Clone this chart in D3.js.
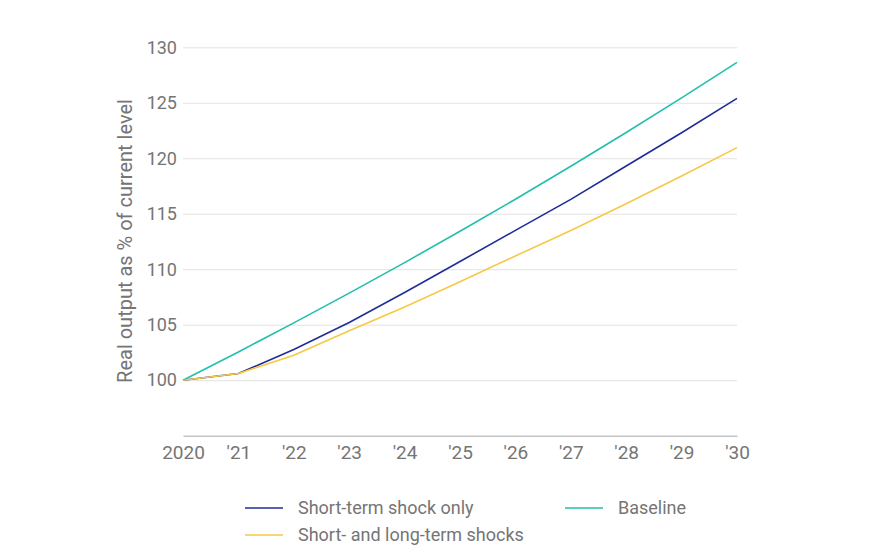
<!DOCTYPE html>
<html>
<head>
<meta charset="utf-8">
<script src="https://cdn.jsdelivr.net/npm/d3@7"></script>
<style>
  body { margin: 0; background: #fff; font-family: Roboto, "Noto Sans", sans-serif; }
</style>
</head>
<body>
<script>
// years on the x axis and their labels
const years = [2020, 2021, 2022, 2023, 2024, 2025, 2026, 2027, 2028, 2029, 2030];
const yearLabels = ["2020", "'21", "'22", "'23", "'24", "'25", "'26", "'27", "'28", "'29", "'30"];
const yTicks = [100, 105, 110, 115, 120, 125, 130];

// real output as % of current level
const shortTerm = [100, 100.6, 102.77, 105.2, 107.9, 110.7, 113.5, 116.3, 119.3, 122.3, 125.4];
const shortLong = [100, 100.6, 102.26, 104.45, 106.6, 108.87, 111.2, 113.5, 115.9, 118.4, 120.96];
const baseline = [100, 102.55, 105.17, 107.85, 110.6, 113.42, 116.31, 119.28, 122.32, 125.44, 128.64];

// drawing order: yellow sits on top of the navy line where they overlap
const series = [
  { name: "Baseline", values: baseline, color: "#22bfae" },
  { name: "Short-term shock only", values: shortTerm, color: "#1f2d96" },
  { name: "Short- and long-term shocks", values: shortLong, color: "#f6c945" }
];

const width = 870, height = 560;
const plot = { left: 183, right: 737, top: 47.3, bottom: 435.7 };

const svg = d3.select("body").append("svg")
  .attr("width", width)
  .attr("height", height);

const x = d3.scaleLinear().domain([2020, 2030]).range([plot.left, plot.right]);
const y = d3.scaleLinear().domain([95, 130]).range([plot.bottom, plot.top]);

const textColor = "#757575";

// gridlines + y labels
const yAxis = svg.append("g")
  .attr("transform", `translate(${plot.left},0)`)
  .call(d3.axisLeft(y).tickValues(yTicks).tickSize(-(plot.right - plot.left)).tickPadding(6));
yAxis.select(".domain").remove();
yAxis.selectAll(".tick line").attr("stroke", "#e3e3e3").attr("stroke-width", 1);
yAxis.selectAll(".tick text")
  .attr("fill", textColor)
  .style("font-size", "18px")
  .style("font-family", "Roboto, sans-serif");

// bottom axis
const xAxis = svg.append("g")
  .attr("transform", `translate(0,${plot.bottom})`)
  .call(d3.axisBottom(x).tickValues(years).tickFormat((d, i) => yearLabels[i]).tickSize(0).tickPadding(10));
xAxis.select(".domain").attr("stroke", "#c4c4c4").attr("stroke-width", 1.5);
xAxis.selectAll(".tick text")
  .attr("fill", textColor)
  .attr("dy", "0.71em")
  .style("font-size", "19px")
  .style("font-family", "Roboto, sans-serif");

// y axis title
svg.append("text")
  .attr("transform", `translate(132,${(100 + 382) / 2}) rotate(-90)`)
  .attr("text-anchor", "middle")
  .attr("fill", textColor)
  .style("font-size", "20px")
  .text("Real output as % of current level");

// lines
const line = d3.line()
  .x((d, i) => x(years[i]))
  .y(d => y(d));

svg.selectAll("path.series")
  .data(series)
  .enter()
  .append("path")
  .attr("class", "series")
  .attr("d", d => line(d.values))
  .attr("fill", "none")
  .attr("stroke", d => d.color)
  .attr("stroke-width", 1.6);

// legend
const legendItems = [
  { name: "Short-term shock only", color: "#1f2d96", lx: 245, ly: 508 },
  { name: "Baseline", color: "#22bfae", lx: 565, ly: 508 },
  { name: "Short- and long-term shocks", color: "#f6c945", lx: 245, ly: 535 }
];
const legend = svg.selectAll("g.legend")
  .data(legendItems)
  .enter()
  .append("g")
  .attr("class", "legend")
  .attr("transform", d => `translate(${d.lx},${d.ly})`);
legend.append("line")
  .attr("x1", 0).attr("x2", 38)
  .attr("stroke", d => d.color)
  .attr("stroke-width", 1.6);
legend.append("text")
  .attr("x", 53)
  .attr("dy", "0.35em")
  .attr("fill", textColor)
  .style("font-size", "18px")
  .text(d => d.name);
</script>
</body>
</html>
